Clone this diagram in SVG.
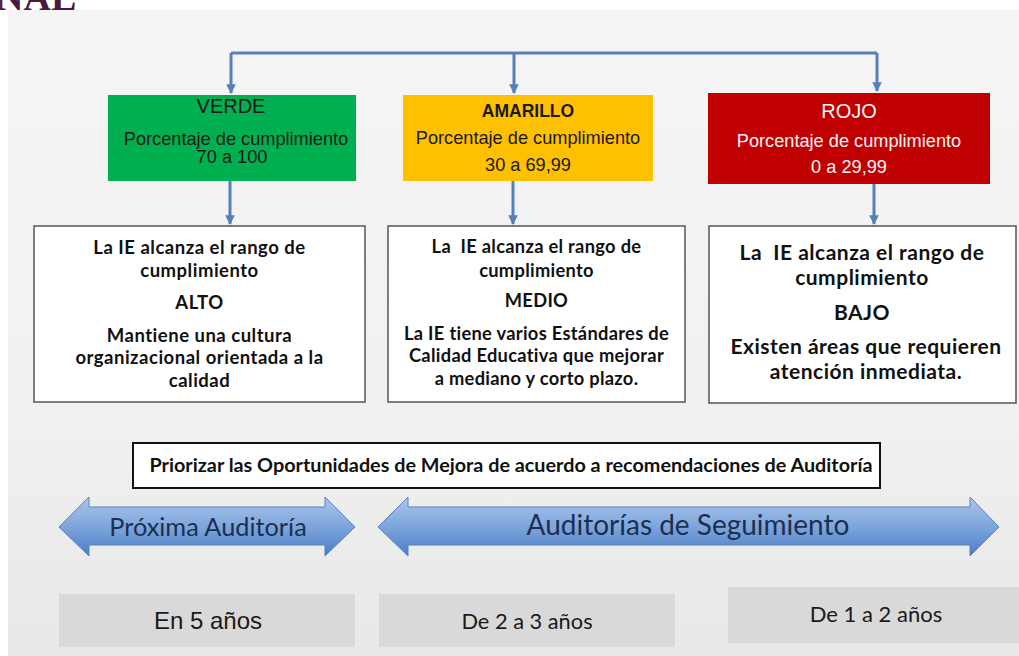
<svg xmlns="http://www.w3.org/2000/svg" width="1019" height="656" viewBox="0 0 1019 656">
<defs>
<style>
.conn{fill:none;stroke:#5580b8;stroke-width:3}
.hdr{font-family:"Liberation Sans",Arial,sans-serif;text-anchor:middle}
.body{font-family:Lato,"Open Sans",sans-serif;font-weight:bold;fill:#111;text-anchor:middle}
.wbox{fill:#fff;stroke:#555;stroke-width:1.5}
.gbox{fill:#d9d9d9}
.atext{font-family:Lato,"Open Sans",sans-serif;fill:#1c2f52;text-anchor:middle}
.blk{fill:url(#ag);stroke:#5b82bd;stroke-width:1}
</style>
<linearGradient id="bg" x1="0" y1="0" x2="0" y2="1">
<stop offset="0" stop-color="#f5f5f5"/>
<stop offset="0.6" stop-color="#f1f1f1"/>
<stop offset="1" stop-color="#e8e8e8"/>
</linearGradient>
<linearGradient id="ag" x1="0" y1="0" x2="0" y2="1">
<stop offset="0" stop-color="#a9c6ec"/>
<stop offset="0.5" stop-color="#7ea6dc"/>
<stop offset="1" stop-color="#4a7cc4"/>
</linearGradient>
<marker id="ah" viewBox="0 0 10 10" refX="9" refY="5" markerWidth="3.2" markerHeight="3.2" orient="auto">
<path d="M0,0 L10,5 L0,10 z" fill="#5580b8"/>
</marker>
</defs>
<rect x="0" y="0" width="1019" height="656" fill="#fff"/>
<rect x="8" y="10" width="1011" height="646" fill="url(#bg)"/>
<text x="-4" y="10" font-family="Liberation Serif,serif" font-weight="bold" font-size="38" fill="#4a1a3a">NAL</text>

<g id="connectors">
<path class="conn" d="M231,53 H877"/>
<path class="conn" d="M231,53 V93" marker-end="url(#ah)"/>
<path class="conn" d="M514,53 V93" marker-end="url(#ah)"/>
<path class="conn" d="M877,53 V91" marker-end="url(#ah)"/>
<path class="conn" d="M230,181 V224" marker-end="url(#ah)"/>
<path class="conn" d="M513,181 V224" marker-end="url(#ah)"/>
<path class="conn" d="M874,184 V224" marker-end="url(#ah)"/>
</g>

<g id="verde">
<rect x="108" y="95" width="248" height="86" fill="#00b050"/>
<text class="hdr" x="231" y="113" font-size="20" fill="#1a1a1a">VERDE</text>
<text class="hdr" x="236" y="145" font-size="18.2" fill="#1a1a1a">Porcentaje de cumplimiento</text>
<text class="hdr" x="232" y="163" font-size="18.2" fill="#1a1a1a">70 a 100</text>
</g>

<g id="amarillo">
<rect x="403" y="95" width="250" height="86" fill="#ffc000"/>
<text class="hdr" x="528" y="117" font-size="17.5" font-weight="bold" fill="#1a1a1a">AMARILLO</text>
<text class="hdr" x="528" y="144" font-size="18.2" fill="#1a1a1a">Porcentaje de cumplimiento</text>
<text class="hdr" x="528" y="171" font-size="18.2" fill="#1a1a1a">30 a 69,99</text>
</g>

<g id="rojo">
<rect x="708" y="93" width="282" height="91" fill="#c00000"/>
<text class="hdr" x="849" y="118" font-size="20" fill="#f4f4f4">ROJO</text>
<text class="hdr" x="849" y="147" font-size="18.2" fill="#f4f4f4">Porcentaje de cumplimiento</text>
<text class="hdr" x="849" y="173" font-size="18.2" fill="#f4f4f4">0 a 29,99</text>
</g>

<g id="alto">
<rect class="wbox" x="34" y="226" width="331" height="176"/>
<text class="body" font-size="18.5" letter-spacing="0.5" x="199.5" y="254">La IE alcanza el rango de</text>
<text class="body" font-size="18.5" letter-spacing="0.5" x="199.5" y="277">cumplimiento</text>
<text class="body" font-size="18.5" letter-spacing="0.5" x="199.5" y="309">ALTO</text>
<text class="body" font-size="18.5" letter-spacing="0.5" x="199.5" y="342">Mantiene una cultura</text>
<text class="body" font-size="18.5" letter-spacing="0.5" x="199.5" y="364">organizacional orientada a la</text>
<text class="body" font-size="18.5" letter-spacing="0.5" x="199.5" y="387">calidad</text>
</g>

<g id="medio">
<rect class="wbox" x="388" y="226" width="297" height="176"/>
<text class="body" font-size="18.3" letter-spacing="0.3" x="536.5" y="253" xml:space="preserve">La  IE alcanza el rango de</text>
<text class="body" font-size="18.3" letter-spacing="0.3" x="536.5" y="277">cumplimiento</text>
<text class="body" font-size="18.3" letter-spacing="0.3" x="536.5" y="307">MEDIO</text>
<text class="body" font-size="18.3" letter-spacing="0.3" x="536.5" y="340">La IE tiene varios Estándares de</text>
<text class="body" font-size="18.3" letter-spacing="0.3" x="536.5" y="362">Calidad Educativa que mejorar</text>
<text class="body" font-size="18.3" letter-spacing="0.3" x="536.5" y="385">a mediano y corto plazo.</text>
</g>

<g id="bajo">
<rect class="wbox" x="709" y="226" width="307" height="177"/>
<text class="body" font-size="21" letter-spacing="0.5" x="862" y="260" xml:space="preserve">La  IE alcanza el rango de</text>
<text class="body" font-size="21" letter-spacing="0.5" x="862" y="285">cumplimiento</text>
<text class="body" font-size="21" letter-spacing="0.5" x="862" y="320">BAJO</text>
<text class="body" font-size="21" letter-spacing="0.5" x="866" y="354">Existen áreas que requieren</text>
<text class="body" font-size="21" letter-spacing="0.5" x="866" y="379">atención inmediata.</text>
</g>

<g id="priorizar">
<rect x="133" y="443" width="747" height="45" fill="#fff" stroke="#111" stroke-width="2"/>
<text class="body" font-size="19.8" x="511" y="472">Priorizar las Oportunidades de Mejora de acuerdo a recomendaciones de Auditoría</text>
</g>

<g id="proxima">
<path class="blk" d="M59,527 L89,497 L89,507 L325,507 L325,497 L355,527 L325,556 L325,545 L89,545 L89,556 Z"/>
<text class="atext" x="208" y="536" font-size="25.3">Próxima Auditoría</text>
</g>

<g id="seguimiento">
<path class="blk" d="M378,527 L408,497 L408,507 L970,507 L970,497 L999,527 L970,556 L970,545 L408,545 L408,556 Z"/>
<text class="atext" x="688" y="535" font-size="28">Auditorías de Seguimiento</text>
</g>

<g id="cinco">
<rect class="gbox" x="59" y="594" width="296" height="53"/>
<text x="208" y="629" font-family="Liberation Sans,Arial,sans-serif" font-size="24" fill="#1a1a1a" text-anchor="middle">En 5 años</text>
</g>

<g id="dostres">
<rect class="gbox" x="379" y="594" width="296" height="53"/>
<text x="527" y="629" font-family="Lato,sans-serif" font-size="21.8" fill="#1a1a1a" text-anchor="middle">De 2 a 3 años</text>
</g>

<g id="unodos">
<rect class="gbox" x="728" y="587" width="291" height="56"/>
<text x="876" y="622" font-family="Lato,sans-serif" font-size="22" fill="#1a1a1a" text-anchor="middle">De 1 a 2 años</text>
</g>
</svg>
